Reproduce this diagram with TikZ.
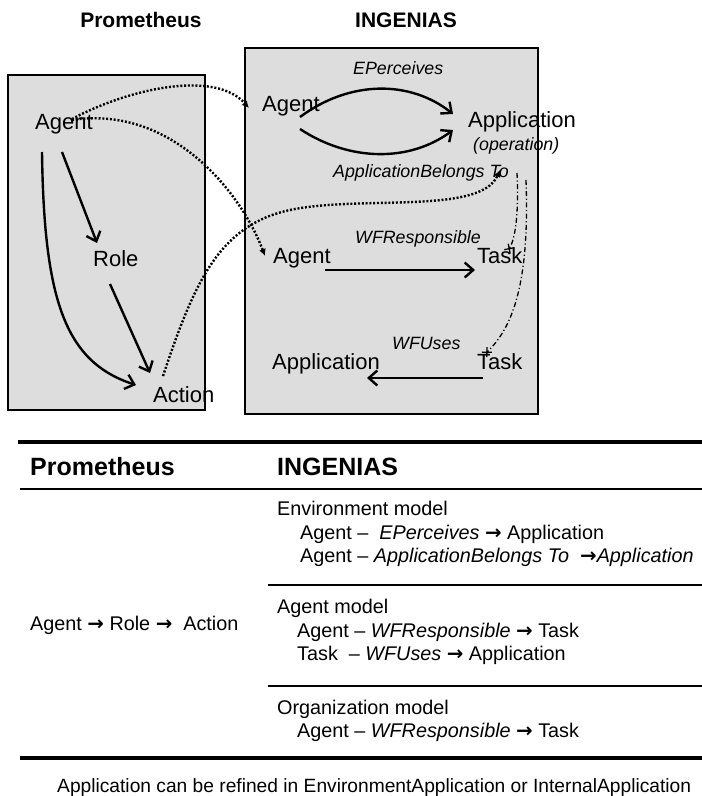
\documentclass[tikz,border=0pt]{standalone}
\usepackage{fontspec}
\setmainfont{Liberation Sans}
\newfontfamily\arw{DejaVu Sans}
\usetikzlibrary{arrows.meta}
\definecolor{boxgray}{RGB}{221,221,221}
\newcommand\rar{{\arw\bfseries →}}
\begin{document}
\begin{tikzpicture}[x=1pt,y=-1pt,
  lbl/.style={font=\fontsize{22}{26}\selectfont, inner sep=0pt, anchor=base west},
  rel/.style={font=\fontsize{17.8}{21}\selectfont\itshape, inner sep=0pt, anchor=base west},
  ttl/.style={font=\fontsize{21}{25}\selectfont\bfseries, inner sep=0pt, anchor=base},
  hdr/.style={font=\fontsize{25}{30}\selectfont\bfseries, inner sep=0pt, anchor=base west},
  tab/.style={font=\fontsize{19.8}{23}\selectfont, inner sep=0pt, anchor=base west},
  foot/.style={font=\fontsize{19.2}{23}\selectfont, inner sep=0pt, anchor=base west},
  panel/.style={draw=black, fill=boxgray, line width=1.5pt},
  solidarr/.style={line width=2.4pt, -{Straight Barb[length=8.5pt,width=15pt]}},
  dotarr/.style={line width=2.4pt, dash pattern=on 2pt off 1.8pt, -{Latex[length=7pt,width=7pt]}},
  ddarr/.style={line width=1.3pt, dash pattern=on 5pt off 2.5pt on 1.2pt off 2.5pt, -{Rays[n=4,length=10pt,width=10pt]}},
  rulethick/.style={line width=3.2pt},
  rulethin/.style={line width=1.6pt},
]
\useasboundingbox (0,0) rectangle (702,796);
% titles
\node[ttl] (tP) at (141,27.5) {Prometheus};
\node[ttl] (tI) at (406,27.5) {INGENIAS};
% panels
\path[panel] (8,75) rectangle (205,410);
\path[panel] (245,48) rectangle (538,414);
% left nodes
\node[lbl] (pA) at (35,129) {Agent};
\node[lbl] (pR) at (93,266) {Role};
\node[lbl] (pAc) at (153,402) {Action};
% right nodes
\node[lbl] (iA1) at (262,111) {Agent};
\node[lbl] (iApp1) at (468,127) {Application};
\node[rel] (iOp) at (473,150) {(operation)};
\node[rel] (lEP) at (353,74) {EPerceives};
\node[rel] (lAB) at (333,177) {ApplicationBelongs To};
\node[rel] (lWR) at (355,243) {WFResponsible};
\node[lbl] (iA2) at (273,263) {Agent};
\node[lbl] (iT1) at (477,263) {Task};
\node[rel] (lWU) at (392,349) {WFUses};
\node[lbl] (iApp2) at (272,369) {Application};
\node[lbl] (iT2) at (477,369) {Task};
% left connectors
\draw[solidarr] (42,152) .. controls (44,300) and (65,362) .. (136,385);
\draw[solidarr] (62,152) -- (97,243);
\draw[solidarr] (110,284) -- (150,373);
% right connectors
\draw[solidarr] (300,117) .. controls (350,80) and (410,80) .. (453,114);
\draw[solidarr] (300,129) .. controls (350,162) and (410,162) .. (453,130);
\draw[solidarr] (325,270) -- (475,270);
\draw[solidarr] (483,378) -- (367,378);
% dotted mappings
\draw[dotarr] (72,119) .. controls (130,88) and (215,70) .. (249,108);
\draw[dotarr] (72,120) .. controls (170,105) and (240,190) .. (265,256);
\draw[dotarr] (163,376) .. controls (195,280) and (220,225) .. (290,210) .. controls (360,195) and (480,215) .. (500,170);
% dash-dot
\draw[ddarr] (517,173) .. controls (519,215) and (515,240) .. (507,252);
\draw[ddarr] (526,180) .. controls (530,290) and (510,330) .. (484,355);
% table
\draw[rulethick] (18,442) -- (702,442);
\draw[rulethin] (20,489) -- (702,489);
\draw[rulethin] (268,585) -- (702,585);
\draw[rulethin] (268,686) -- (702,686);
\draw[rulethick] (20,758) -- (702,758);
\node[hdr] (hP) at (30,475) {Prometheus};
\node[hdr] (hI) at (277,475) {INGENIAS};
\node[tab] (e0) at (277,515) {Environment model};
\node[tab] (e1) at (300,539) {Agent –\ \ \textit{EPerceives} \rar\ Application};
\node[tab] (e2) at (300,562) {Agent – \textit{ApplicationBelongs To}\ \ \rar\textit{Application}};
\node[tab] (a0) at (277,613) {Agent model};
\node[tab] (a1) at (297,637) {Agent – \textit{WFResponsible} \rar\ Task};
\node[tab] (a2) at (297,660) {Task\ \ – \textit{WFUses} \rar\ Application};
\node[tab] (pr) at (30,630) {Agent \rar\ Role \rar\ \ Action};
\node[tab] (o0) at (277,714) {Organization model};
\node[tab] (o1) at (297,737) {Agent – \textit{WFResponsible} \rar\ Task};
\node[foot] (ft) at (57,792) {Application can be refined in EnvironmentApplication or InternalApplication};
\end{tikzpicture}
\end{document}
